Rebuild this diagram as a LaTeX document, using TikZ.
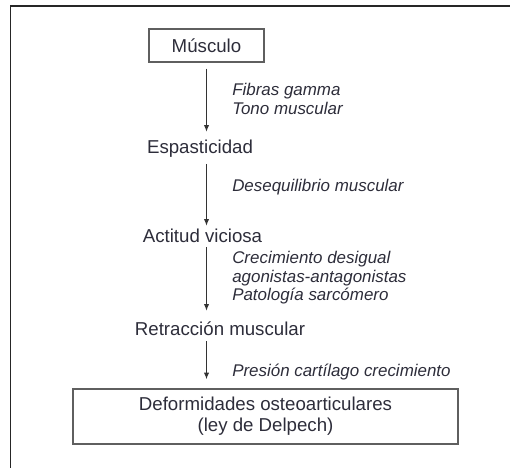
\documentclass[tikz,border=0pt]{standalone}
\usepackage{fontspec}
\setmainfont{Liberation Sans}
\usetikzlibrary{arrows.meta,positioning}
\definecolor{textogris}{RGB}{45,45,58}
\definecolor{bordegris}{RGB}{95,95,95}

\tikzset{
  caja/.style={rectangle,draw=bordegris,line width=1.1pt,inner sep=0pt,align=center,text=textogris,font=\fontsize{14}{15.75}\selectfont},
  paso/.style={inner sep=0pt,text height=0.75em,text depth=0.25em,text=textogris,font=\fontsize{14}{16}\selectfont},
  nota/.style={anchor=west,align=left,inner sep=0pt,text=textogris,font=\fontsize{12.7}{13.6}\selectfont\itshape},
  flecha/.style={draw=black!80,line width=0.75pt,-{Latex[length=5pt,width=4pt]}}
}

\begin{document}
\begin{tikzpicture}[x=0.75pt,y=-0.75pt]
    \useasboundingbox (0,0) rectangle (510,468);

    % Marco
    \draw[line width=1.2pt,black!85] (510,6) -- (10.5,6) -- (10.5,468);

    % Cadena
    \node[caja,minimum width=86pt,minimum height=24.75pt] (musculo) at (206.5,45.5) {Músculo};
    \node[paso,anchor=base] (espas) at (200,153) {Espasticidad};
    \node[paso,anchor=base] (actitud) at (202.5,242) {Actitud viciosa};
    \node[paso,anchor=base] (retrac) at (220,335) {Retracción muscular};
    \node[caja,minimum width=288.75pt,minimum height=41.25pt] (deform) at (265.5,416.5) {Deformidades osteoarticulares\\(ley de Delpech)};

    % Notas
    \node[nota] (fibras) at (232,99) {Fibras gamma\\Tono muscular};
    \node[nota] (deseq) at (232,187) {Desequilibrio muscular};
    \node[nota,font=\fontsize{12.7}{13.9}\selectfont\itshape] (crec) at (232,278) {Crecimiento desigual\\agonistas-antagonistas\\Patología sarcómero};
    \node[nota] (presion) at (232,372) {Presión cartílago crecimiento};

    % Flechas
    \draw[flecha,shorten <=4.5pt,shorten >=8.25pt] (musculo.south) -- (musculo.south |- espas.north);
    \draw[flecha,shorten <=5.5pt,shorten >=4.5pt] (musculo.south |- espas.south) -- (musculo.south |- actitud.north);
    \draw[flecha,shorten <=1pt,shorten >=10.5pt] (musculo.south |- actitud.south) -- (musculo.south |- retrac.north);
    \draw[flecha,shorten <=1.8pt,shorten >=6.75pt] (musculo.south |- retrac.south) -- (musculo.south |- deform.north);
\end{tikzpicture}
\end{document}
